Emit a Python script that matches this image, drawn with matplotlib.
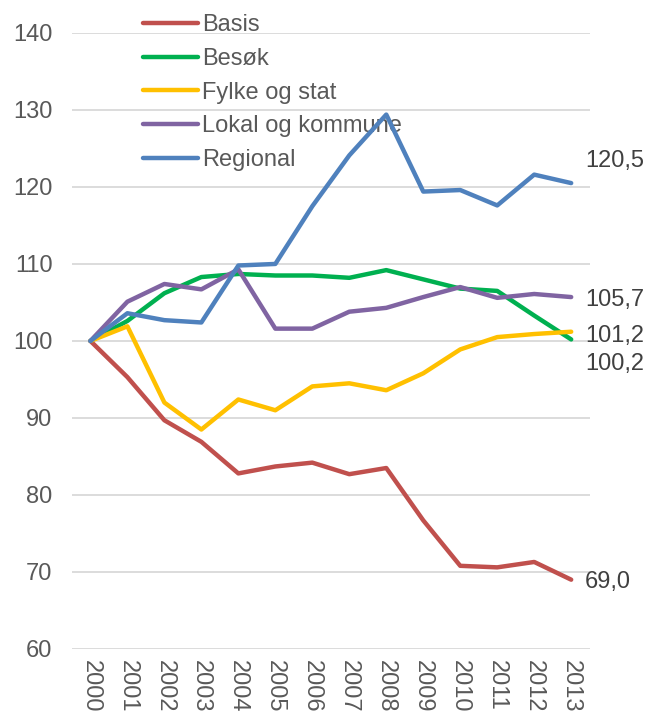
import matplotlib.pyplot as plt
import numpy as np

plt.rcParams['font.family'] = ['Liberation Sans', 'DejaVu Sans']

years = [str(y) for y in range(2000, 2014)]

basis = [100, 95.3, 89.7, 86.9, 82.8, 83.7, 84.2, 82.7, 83.5, 76.7, 70.8, 70.6, 71.3, 69.0]
besok = [100, 102.6, 106.2, 108.3, 108.7, 108.5, 108.5, 108.2, 109.2, 108.0, 106.8, 106.5, 103.3, 100.2]
fylke = [100, 101.9, 92.0, 88.5, 92.4, 91.0, 94.1, 94.5, 93.6, 95.8, 98.9, 100.5, 100.9, 101.2]
lokal = [100, 105.1, 107.4, 106.7, 109.3, 101.6, 101.6, 103.8, 104.3, 105.7, 107.0, 105.6, 106.1, 105.7]
regional = [100, 103.6, 102.7, 102.4, 109.8, 110.0, 117.5, 124.1, 129.4, 119.4, 119.6, 117.6, 121.6, 120.5]

names = ["Basis", "Besøk", "Fylke og stat", "Lokal og kommune", "Regional"]
colors = ["#c0504d", "#00b050", "#ffc000", "#8064a2", "#4f81bd"]
series = [basis, besok, fylke, lokal, regional]

fs = 17

fig = plt.figure(figsize=(6.48, 7.16), dpi=100)
ax = fig.add_axes([0.111, 0.0936, 0.799, 0.8604])

x = np.arange(len(years))
for vals, name, col in zip(series, names, colors):
    ax.plot(x, vals, color=col, lw=3.2, label=name, solid_capstyle='round', zorder=3)

# end labels, nudged apart like the original
end_off = {"Basis": -2, "Besøk": -18, "Fylke og stat": -3, "Lokal og kommune": -2, "Regional": 16}
for vals, name in zip(series, names):
    ax.annotate(f"{vals[-1]:.1f}".replace(".", ","), xy=(x[-1], vals[-1]),
                xytext=(10, end_off[name]), textcoords='offset points',
                ha='left', va='center', fontsize=fs, color='#404040',
                annotation_clip=False)

ax.set_xlim(-0.5, len(years) - 0.5)
ax.set_ylim(60, 140)
ax.set_yticks(range(60, 141, 10))
ax.set_xticks(x)
ax.set_xticklabels(years, rotation=-90)
ax.tick_params(axis='both', length=0, labelsize=fs, labelcolor='#595959')
ax.tick_params(axis='y', pad=14)
ax.tick_params(axis='x', pad=8)
ax.grid(axis='y', color='#d9d9d9', lw=1.3)
ax.set_axisbelow(True)
for s in ax.spines.values():
    s.set_visible(False)

leg = ax.legend(loc='upper left', bbox_to_anchor=(143 / 648, 1 - 14 / 716),
                bbox_transform=fig.transFigure, frameon=False, fontsize=fs,
                handlelength=2.33, handletextpad=0.17, labelspacing=0.5,
                borderpad=0, borderaxespad=0)
for t in leg.get_texts():
    t.set_color('#595959')
leg.set_zorder(2)

fig.savefig("out.png", dpi=100)
